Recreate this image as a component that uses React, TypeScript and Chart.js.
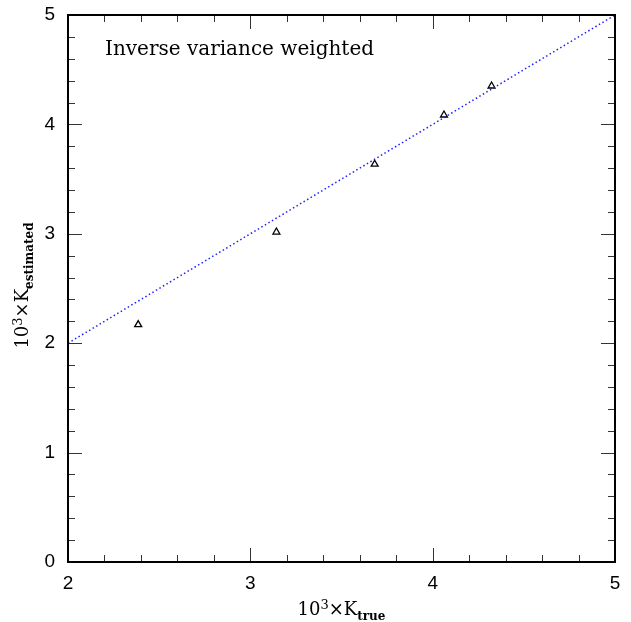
import React, { useEffect, useRef } from "react";
import { Chart, registerables } from "chart.js";

Chart.register(...registerables);

// ---- data ----
const kTrue = [2.385, 3.143, 3.682, 4.062, 4.323];
const kEstimated = [2.17, 3.016, 3.636, 4.086, 4.351];
const oneToOneX = [2, 5];
const oneToOneY = [2, 5];
const xMin = 2;
const xMax = 5;
const yMin = 0;
const yMax = 5;
const majorStep = 1;
const minorStep = 0.2;
const titleText = "Inverse variance weighted";
const xLabelParts = ["10", "3", "×K", "true"];
const yLabelParts = ["10", "3", "×K", "estimated"];

const SERIF = "'DejaVu Serif', serif";

type Seg = { text: string; font: string; dy: number };

function labelSegs(parts: string[]): Seg[] {
  return [
    { text: parts[0], font: `18px ${SERIF}`, dy: 0 },
    { text: parts[1], font: `13px ${SERIF}`, dy: -6 },
    { text: parts[2], font: `18px ${SERIF}`, dy: 0 },
    { text: parts[3], font: `bold 12px ${SERIF}`, dy: 5 },
  ];
}

function drawSegs(ctx: CanvasRenderingContext2D, segs: Seg[], cx: number, baseline: number) {
  let total = 0;
  for (const s of segs) {
    ctx.font = s.font;
    total += ctx.measureText(s.text).width;
  }
  let x = cx - total / 2;
  for (const s of segs) {
    ctx.font = s.font;
    ctx.fillText(s.text, x, baseline + s.dy);
    x += ctx.measureText(s.text).width;
  }
}

const framePlugin = {
  id: "frameTicks",
  afterDatasetsDraw(chart: any) {
    const ctx: CanvasRenderingContext2D = chart.ctx;
    const { left, right, top, bottom } = chart.chartArea;
    const xs = chart.scales.x;
    const ys = chart.scales.y;
    ctx.save();
    // ticks
    ctx.strokeStyle = "#333";
    ctx.lineWidth = 1;
    const majorLen = 14;
    const minorLen = 7;
    const nx = Math.round((xMax - xMin) / minorStep);
    for (let i = 1; i < nx; i++) {
      const v = xMin + i * minorStep;
      const isMajor = Math.abs(v / majorStep - Math.round(v / majorStep)) < 1e-6;
      const len = isMajor ? majorLen : minorLen;
      const px = Math.round(xs.getPixelForValue(v)) + 0.5;
      ctx.beginPath();
      ctx.moveTo(px, bottom);
      ctx.lineTo(px, bottom - len);
      ctx.moveTo(px, top);
      ctx.lineTo(px, top + len);
      ctx.stroke();
    }
    const ny = Math.round((yMax - yMin) / minorStep);
    for (let i = 1; i < ny; i++) {
      const v = yMin + i * minorStep;
      const isMajor = Math.abs(v / majorStep - Math.round(v / majorStep)) < 1e-6;
      const len = isMajor ? majorLen : minorLen;
      const py = Math.round(ys.getPixelForValue(v)) + 0.5;
      ctx.beginPath();
      ctx.moveTo(left, py);
      ctx.lineTo(left + len, py);
      ctx.moveTo(right, py);
      ctx.lineTo(right - len, py);
      ctx.stroke();
    }
    // frame
    ctx.strokeStyle = "#000";
    ctx.lineWidth = 2;
    ctx.strokeRect(left, top, right - left, bottom - top);

    // title
    ctx.fillStyle = "#000";
    ctx.textAlign = "left";
    ctx.textBaseline = "alphabetic";
    ctx.font = `20px ${SERIF}`;
    ctx.fillText(titleText, left + 37, top + 40);

    // x label
    drawSegs(ctx, labelSegs(xLabelParts), (left + right) / 2, 615);

    // y label
    ctx.translate(27.5, (top + bottom) / 2 - 3);
    ctx.rotate(-Math.PI / 2);
    drawSegs(ctx, labelSegs(yLabelParts), 0, 0);
    ctx.restore();
  },
};

export default function App() {
  const ref = useRef<HTMLCanvasElement>(null);
  useEffect(() => {
    const canvas = ref.current;
    if (!canvas) return;
    const chart = new Chart(canvas, {
      type: "scatter",
      data: {
        datasets: [
          {
            type: "line",
            data: oneToOneX.map((x, i) => ({ x, y: oneToOneY[i] })),
            borderColor: "rgb(30,30,255)",
            borderWidth: 1.5,
            borderDash: [1.5, 2.6],
            pointRadius: 0,
            fill: false,
          } as any,
          {
            data: kTrue.map((x, i) => ({ x, y: kEstimated[i] })),
            pointStyle: "triangle",
            pointRadius: 4,
            pointBorderWidth: 1.3,
            pointBorderColor: "#000",
            pointBackgroundColor: "rgba(0,0,0,0)",
            showLine: false,
          },
        ],
      },
      options: {
        responsive: false,
        animation: false,
        events: [],
        layout: { padding: { top: 15, right: 16, left: 0, bottom: 0 } },
        plugins: { legend: { display: false }, tooltip: { enabled: false } },
        scales: {
          x: {
            type: "linear",
            min: xMin,
            max: xMax,
            grid: { display: false, drawTicks: false },
            border: { display: false },
            ticks: {
              stepSize: majorStep,
              autoSkip: false,
              maxRotation: 0,
              padding: 10,
              color: "#000",
              font: { family: "'Liberation Sans', sans-serif", size: 19 },
              callback: (v: any) => String(v),
            },
            afterFit: (s: any) => {
              s.height = 60;
              s.paddingLeft = 0;
              s.paddingRight = 0;
            },
          },
          y: {
            type: "linear",
            min: yMin,
            max: yMax,
            grid: { display: false, drawTicks: false },
            border: { display: false },
            ticks: {
              stepSize: majorStep,
              autoSkip: false,
              padding: 13,
              color: "#000",
              font: { family: "'Liberation Sans', sans-serif", size: 19 },
              callback: (v: any) => String(v),
            },
            afterFit: (s: any) => {
              s.width = 68;
              s.paddingTop = 0;
              s.paddingBottom = 0;
            },
          },
        },
      },
      plugins: [framePlugin],
    });
    return () => chart.destroy();
  }, []);
  return (
    <div style={{ position: "fixed", left: 0, top: 0, width: 631, height: 622, background: "#fff" }}>
      <canvas ref={ref} width={631} height={622} />
    </div>
  );
}
